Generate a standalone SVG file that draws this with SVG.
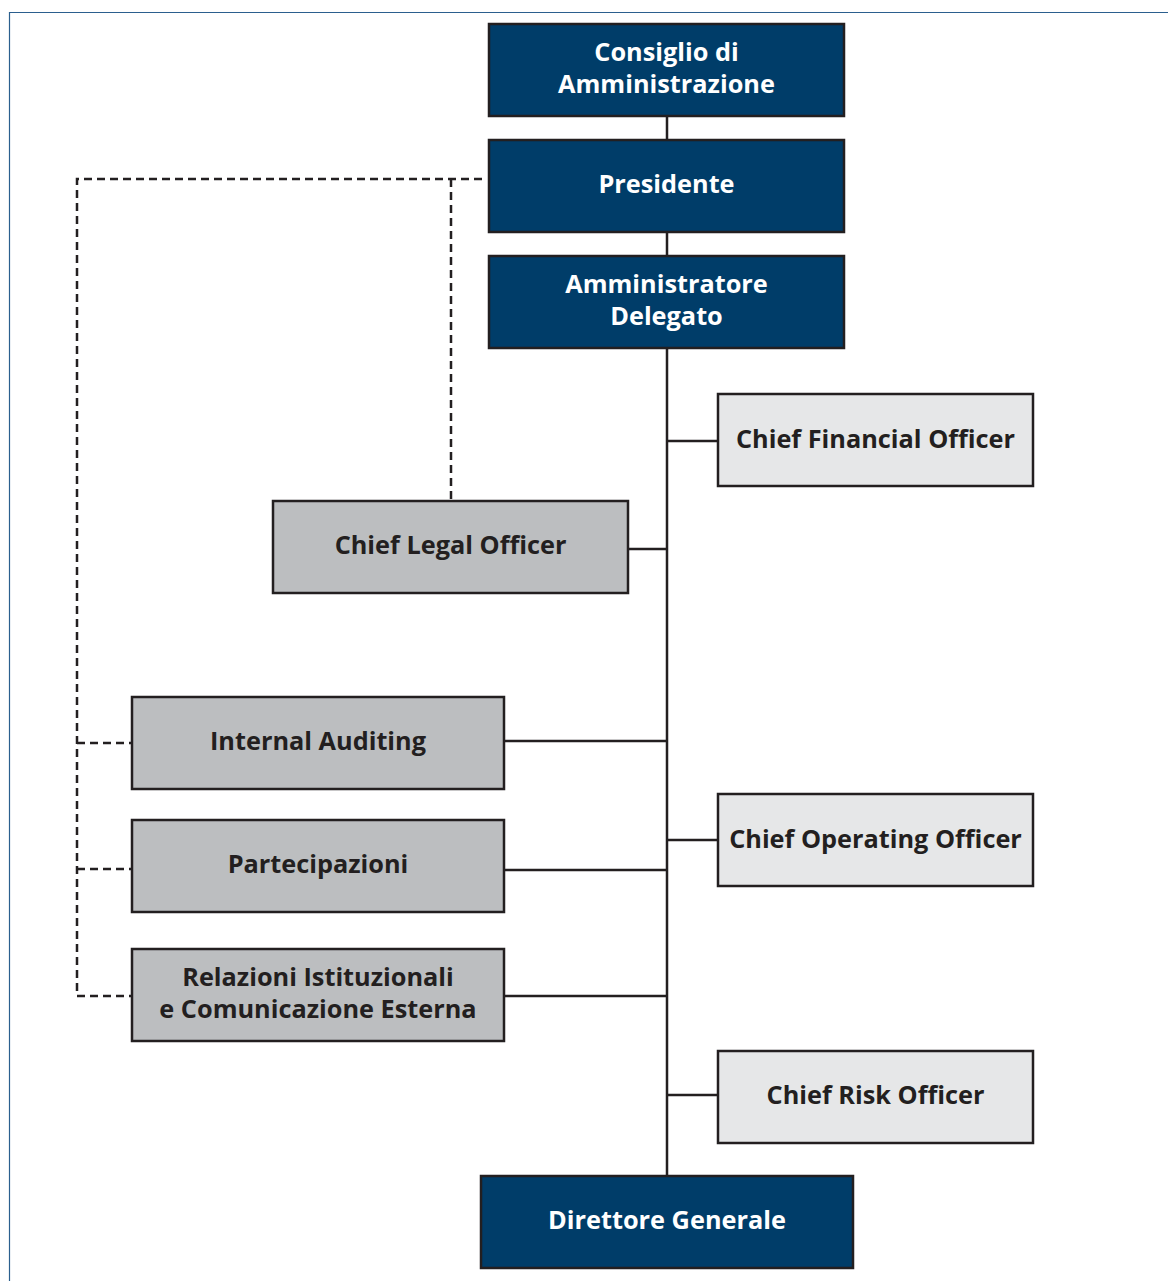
<svg xmlns="http://www.w3.org/2000/svg" width="1168" height="1281" viewBox="0 0 1168 1281">
<style>
.dark{fill:#003d69;stroke:#231f20;stroke-width:2.5}
.mid{fill:#bcbec0;stroke:#231f20;stroke-width:2.5}
.light{fill:#e6e7e8;stroke:#231f20;stroke-width:2.5}
text{font-family:"Open Sans","Noto Sans",sans-serif;font-weight:700;font-size:25.3px;text-anchor:middle}
.w{fill:#ffffff}
.k{fill:#231f20}
.solid{stroke:#231f20;stroke-width:2.5;fill:none}
.dash{stroke:#231f20;stroke-width:2.5;fill:none;stroke-dasharray:8 5}
</style>
<rect x="0" y="0" width="1168" height="1281" fill="#ffffff"/>
<path d="M9.5 1281 V12.5 H1168" fill="none" stroke="#2b5f8e" stroke-width="1.2"/>
<g id="connectors">
<path class="solid" d="M667 116 V1176"/>
<path class="solid" d="M667 441 H718"/>
<path class="solid" d="M628 549 H667"/>
<path class="solid" d="M504 741 H667"/>
<path class="solid" d="M504 870 H667"/>
<path class="solid" d="M504 996 H667"/>
<path class="solid" d="M667 840 H718"/>
<path class="solid" d="M667 1095 H718"/>
<path class="dash" d="M482 179 H77 V996 H132"/>
<path class="dash" d="M451 179 V501"/>
<path class="dash" d="M77 743 H132"/>
<path class="dash" d="M77 869 H132"/>
</g>
<g id="consiglio"><rect class="dark" x="489" y="24" width="355" height="92"/><text class="w" x="666.5" y="61">Consiglio di</text><text class="w" x="666.5" y="93">Amministrazione</text></g>
<g id="presidente"><rect class="dark" x="489" y="140" width="355" height="92"/><text class="w" x="666.5" y="193">Presidente</text></g>
<g id="amministratore"><rect class="dark" x="489" y="256" width="355" height="92"/><text class="w" x="666.5" y="293">Amministratore</text><text class="w" x="666.5" y="325">Delegato</text></g>
<g id="cfo"><rect class="light" x="718" y="394" width="315" height="92"/><text class="k" x="875.5" y="448">Chief Financial Officer</text></g>
<g id="clo"><rect class="mid" x="273" y="501" width="355" height="92"/><text class="k" x="450.5" y="554">Chief Legal Officer</text></g>
<g id="internal-auditing"><rect class="mid" x="132" y="697" width="372" height="92"/><text class="k" x="318" y="750">Internal Auditing</text></g>
<g id="coo"><rect class="light" x="718" y="794" width="315" height="92"/><text class="k" x="875.5" y="848">Chief Operating Officer</text></g>
<g id="partecipazioni"><rect class="mid" x="132" y="820" width="372" height="92"/><text class="k" x="318" y="873">Partecipazioni</text></g>
<g id="relazioni"><rect class="mid" x="132" y="949" width="372" height="92"/><text class="k" x="318" y="986">Relazioni Istituzionali</text><text class="k" x="318" y="1018">e Comunicazione Esterna</text></g>
<g id="cro"><rect class="light" x="718" y="1051" width="315" height="92"/><text class="k" x="875.5" y="1104">Chief Risk Officer</text></g>
<g id="direttore"><rect class="dark" x="481" y="1176" width="372" height="92"/><text class="w" x="667" y="1229">Direttore Generale</text></g>
</svg>
